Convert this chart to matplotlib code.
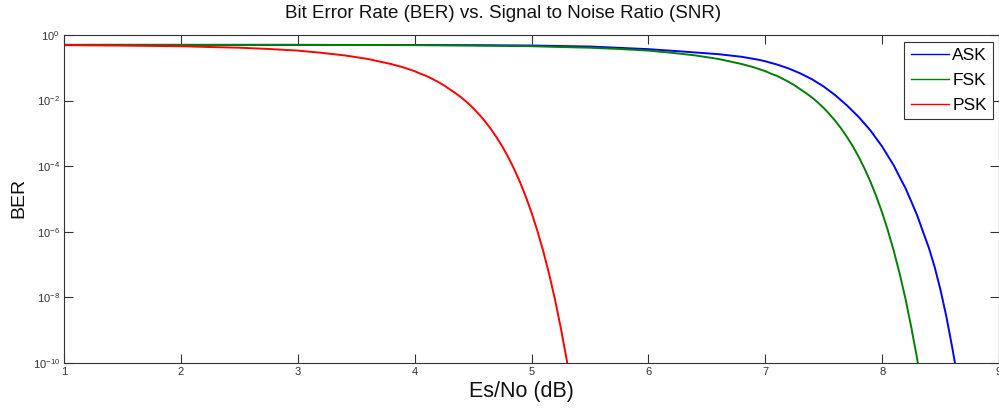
import math
import matplotlib
matplotlib.use("Agg")
import matplotlib.pyplot as plt
from matplotlib.ticker import FixedLocator, FuncFormatter, NullLocator

plt.rcParams['font.family'] = ['Liberation Sans', 'DejaVu Sans']
plt.rcParams['mathtext.fontset'] = 'custom'
plt.rcParams['mathtext.rm'] = 'Liberation Sans'
plt.rcParams['mathtext.it'] = 'Liberation Sans:italic'
plt.rcParams['mathtext.default'] = 'regular'

# ---- data (BER values) ----
ask_x = [1.0, 2.0, 3.0, 4.0, 4.5, 5.0, 5.5, 6.0, 6.3, 6.6, 6.8, 6.95, 7.0, 7.1, 7.2,
         7.3, 7.4, 7.5, 7.6, 7.7, 7.8, 7.9, 8.0, 8.05, 8.1, 8.15, 8.2, 8.25, 8.3,
         8.35, 8.4, 8.45, 8.5, 8.55, 8.6, 8.62, 8.66]
ask_ber = [5.0e-1, 5.0e-1, 5.0e-1, 4.95e-1, 4.9e-1, 4.78e-1, 4.45e-1, 3.7e-1, 3.12e-1,
           2.6e-1, 2.16e-1, 1.74e-1, 1.58e-1, 1.26e-1, 9.55e-2, 6.76e-2, 4.47e-2,
           2.69e-2, 1.45e-2, 7.08e-3, 3.16e-3, 1.23e-3, 3.98e-4, 2.04e-4, 1.05e-4,
           4.68e-5, 2.14e-5, 8.3e-6, 3.16e-6, 1.0e-6, 3.24e-7, 8.3e-8, 1.66e-8,
           2.57e-9, 2.95e-10, 1.15e-10, 1.6e-11]

fsk_x = [1.0, 2.0, 3.0, 3.5, 4.0, 4.5, 5.0, 5.25, 5.5, 5.75, 6.0, 6.2, 6.4, 6.6, 6.8,
         6.9, 7.0, 7.05, 7.1, 7.15, 7.2, 7.25, 7.3, 7.35, 7.4, 7.45, 7.5, 7.55, 7.6,
         7.65, 7.7, 7.75, 7.8, 7.85, 7.9, 7.95, 8.0, 8.05, 8.1, 8.15, 8.2, 8.25, 8.3,
         8.35]
fsk_ber = [5.0e-1, 5.0e-1, 5.0e-1, 4.95e-1, 4.9e-1, 4.75e-1, 4.55e-1, 4.3e-1, 4.1e-1,
           3.75e-1, 3.35e-1, 2.87e-1, 2.39e-1, 1.86e-1, 1.30e-1, 1.04e-1, 7.9e-2,
           6.59e-2, 5.66e-2, 4.62e-2, 3.73e-2, 2.93e-2, 2.22e-2, 1.68e-2, 1.24e-2,
           8.77e-3, 5.95e-3, 3.85e-3, 2.39e-3, 1.40e-3, 7.7e-4, 4.0e-4, 1.91e-4,
           8.4e-5, 3.37e-5, 1.21e-5, 3.87e-6, 1.08e-6, 2.6e-7, 5.3e-8, 9.0e-9,
           1.2e-9, 1.33e-10, 1.1e-11]

psk_x = [1.0, 1.5, 2.0, 2.25, 2.5, 2.75, 3.0, 3.2, 3.4, 3.6, 3.8, 3.9, 4.0, 4.05, 4.1,
         4.15, 4.2, 4.25, 4.3, 4.35, 4.4, 4.45, 4.5, 4.55, 4.6, 4.65, 4.7, 4.75, 4.8,
         4.85, 4.9, 4.95, 5.0, 5.05, 5.1, 5.15, 5.2, 5.25, 5.3, 5.35]
psk_ber = [4.9e-1, 4.75e-1, 4.55e-1, 4.3e-1, 4.1e-1, 3.75e-1, 3.35e-1, 2.87e-1, 2.39e-1,
           1.86e-1, 1.30e-1, 1.04e-1, 7.9e-2, 6.59e-2, 5.66e-2, 4.62e-2, 3.73e-2,
           2.93e-2, 2.22e-2, 1.68e-2, 1.24e-2, 8.77e-3, 5.95e-3, 3.85e-3, 2.39e-3,
           1.40e-3, 7.7e-4, 4.0e-4, 1.91e-4, 8.4e-5, 3.37e-5, 1.21e-5, 3.87e-6,
           1.08e-6, 2.6e-7, 5.3e-8, 9.0e-9, 1.2e-9, 1.33e-10, 1.1e-11]

series_labels = ["ASK", "FSK", "PSK"]
series_colors = ["#0000ff", "#008000", "#ff0000"]

x_ticks = [1, 2, 3, 4, 5, 6, 7, 8, 9]
y_ticks = [1e-10, 1e-8, 1e-6, 1e-4, 1e-2, 1e0]

title = "Bit Error Rate (BER) vs. Signal to Noise Ratio (SNR)"
x_label = "Es/No (dB)"
y_label = "BER"

# ---- figure ----
W, H = 999, 409
fig = plt.figure(figsize=(W / 100, H / 100), dpi=100)
ax_left, ax_right, ax_top, ax_bot = 64, 999, 35, 363
ax_w = ax_right - ax_left
ax_h = ax_bot - ax_top
ax = fig.add_axes([ax_left / W, 1 - ax_bot / H, ax_w / W, ax_h / H])

for xs, ys, lab, col in zip([ask_x, fsk_x, psk_x], [ask_ber, fsk_ber, psk_ber],
                            series_labels, series_colors):
    ax.plot(xs, ys, color=col, lw=1.4, label=lab, solid_joinstyle='round')

ax.set_yscale('log')
ax.set_xlim(1, 9)
ax.set_ylim(1e-10, 1e0)
ax.xaxis.set_major_locator(FixedLocator(x_ticks))
ax.yaxis.set_major_locator(FixedLocator(y_ticks))
ax.yaxis.set_minor_locator(NullLocator())
ax.xaxis.set_minor_locator(NullLocator())


def yfmt(v, pos):
    e = int(round(math.log10(v)))
    return r'$10^{%d}$' % e


ax.yaxis.set_major_formatter(FuncFormatter(yfmt))
ax.tick_params(which='major', direction='in', length=6.5, width=0.8, color='#333333',
               top=True, right=True, labelsize=8, labelcolor='#333333', pad=3)

for sp in ax.spines.values():
    sp.set_color('#333333')
    sp.set_linewidth(0.8)

ax.set_title(title, fontsize=13.5, x=(503 - ax_left) / ax_w, pad=12, color='#111111')
ax.set_xlabel(x_label, fontsize=15.5, color='#111111')
ax.xaxis.set_label_coords((521 - ax_left) / ax_w, -(392 - ax_bot) / ax_h)
ax.xaxis.label.set_verticalalignment('center')
ax.set_ylabel(y_label, fontsize=14, color='#111111')
ax.yaxis.set_label_coords(-(ax_left - 27) / ax_w, 0.5 + (199 - 198) / ax_h)

leg = ax.legend(loc='upper right', bbox_to_anchor=(993 / W, 1 - 42 / H),
                bbox_transform=fig.transFigure, fancybox=False, framealpha=1,
                edgecolor='#333333', fontsize=12.5, handlelength=2.2, handletextpad=0.2,
                labelspacing=0.55, borderpad=0.35, borderaxespad=0)
leg.get_frame().set_linewidth(0.8)
for line in leg.get_lines():
    line.set_linewidth(1.0)

fig.savefig("out.png", dpi=100)
